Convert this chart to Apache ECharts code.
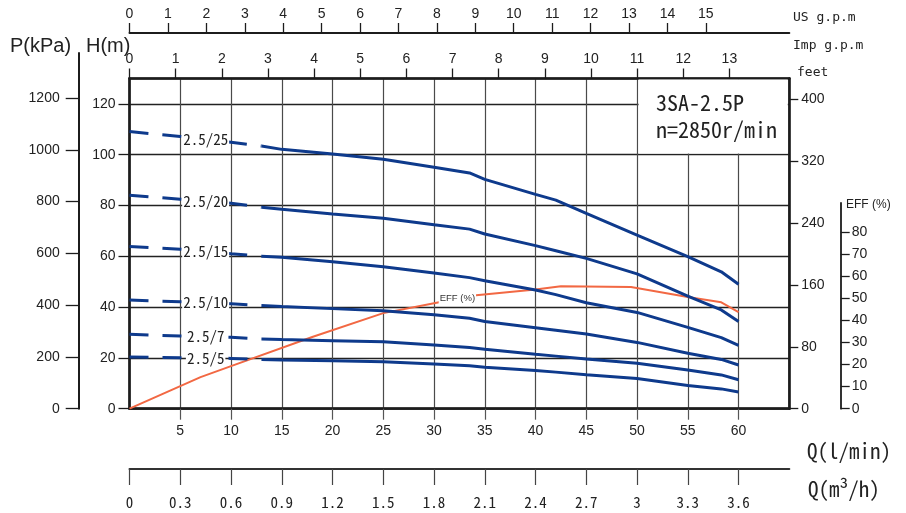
<!DOCTYPE html>
<html><head><meta charset="utf-8">
<script src="https://cdn.jsdelivr.net/npm/echarts@6/dist/echarts.min.js"></script>
<style>html,body{margin:0;padding:0;background:#fff}#c{width:906px;height:513px}</style>
</head><body><div id="c"></div>
<script>
// ---------------- data ----------------
const Q = [0, 5, 10, 13, 15, 20, 25, 30, 33.5, 35, 40, 42, 45, 50, 55, 58.3, 60];
const H_25 = [109.1, 107.2, 104.9, 103.4, 102.1, 100.3, 98.2, 95.1, 92.8, 90.3, 84.4, 82.1, 76.9, 68.3, 59.9, 53.9, 49.0];
const H_20 = [84.0, 82.5, 80.9, 79.3, 78.5, 76.7, 75.0, 72.4, 70.7, 68.8, 64.2, 62.2, 59.2, 53.1, 44.3, 38.9, 34.3];
const H_15 = [63.9, 62.8, 61.0, 60.0, 59.6, 57.9, 55.9, 53.4, 51.6, 50.4, 46.7, 44.9, 41.7, 37.9, 32.0, 28.0, 24.9];
const H_10 = [42.8, 42.1, 41.3, 40.6, 40.2, 39.4, 38.6, 37.0, 35.6, 34.3, 31.9, 30.9, 29.4, 26.1, 21.8, 19.4, 17.2];
const H_7  = [29.3, 28.6, 28.1, 27.4, 27.2, 26.8, 26.4, 25.1, 24.1, 23.4, 21.4, 20.7, 19.6, 17.9, 15.2, 13.3, 11.4];
const H_5  = [20.4, 20.1, 19.8, 19.4, 19.2, 18.9, 18.5, 17.6, 16.9, 16.3, 15.0, 14.4, 13.4, 11.9, 9.1, 7.8, 6.6];
const CURVE_NAMES = ['2.5/25', '2.5/20', '2.5/15', '2.5/10', '2.5/7', '2.5/5'];
const CURVES = [H_25, H_20, H_15, H_10, H_7, H_5];
const DASH_END_Q = 13;      // dashed (non-recommended) range ends here
const CURVE_LABEL_Q = 7.5;  // where the model labels sit

const Q_EFF = [0, 7, 10, 18, 25, 30, 33.9, 40, 42.5, 49.4, 55, 58.3, 60];
const EFF   = [0, 14.3, 19.3, 32.5, 43.3, 47.8, 51.3, 54.0, 55.5, 55.1, 50.6, 48.2, 43.8];
const EFF_LABEL = [32.3, 49.8];

const Q_LMIN_TICKS = [5, 10, 15, 20, 25, 30, 35, 40, 45, 50, 55, 60];
const IMP_TICKS = [0, 1, 2, 3, 4, 5, 6, 7, 8, 9, 10, 11, 12, 13];
const US_TICKS = [0, 1, 2, 3, 4, 5, 6, 7, 8, 9, 10, 11, 12, 13, 14, 15];
const M3H_TICKS = [0, 0.3, 0.6, 0.9, 1.2, 1.5, 1.8, 2.1, 2.4, 2.7, 3, 3.3, 3.6];
const H_TICKS = [0, 20, 40, 60, 80, 100, 120];
const P_TICKS = [0, 200, 400, 600, 800, 1000, 1200];
const FEET_TICKS = [0, 80, 160, 240, 320, 400];
const EFF_TICKS = [0, 10, 20, 30, 40, 50, 60, 70, 80];

const Q_MAX = 65, H_MAX = 130, EFF_AXIS_MAX = 93.2;
const TITLE_BOX = [[50, 100], [65, 130]];

// ---------------- layout / styles ----------------
const GL = 129.5, GR = 116.7, GT = 78.5, GB = 104.3;
const EFF_TOP = 203, P_TOP = 53;
const CH = 513;
const pxPerM = (CH - GT - GB) / H_MAX;
const P_MAX = (CH - P_TOP - GB) / pxPerM * 9.81;

const SANS = '"Liberation Sans", Arial, sans-serif';
const MONO = '"DejaVu Sans Mono", monospace';
const CJKMONO = '"Noto Sans Mono CJK SC", "DejaVu Sans Mono", monospace';
const INK = '#1c1c1c';
const BLUE = '#0e3a8c';
const ORANGE = '#f26843';

function interp(xs, ys, x) {
  for (let i = 1; i < xs.length; i++) {
    if (x <= xs[i]) {
      const t = (x - xs[i - 1]) / (xs[i] - xs[i - 1]);
      return ys[i - 1] + t * (ys[i] - ys[i - 1]);
    }
  }
  return ys[ys.length - 1];
}

const series = [];
CURVES.forEach((H, i) => {
  const pts = Q.map((q, k) => [q, H[k]]);
  series.push({
    type: 'line', xAxisIndex: 0, yAxisIndex: 0, symbol: 'none', silent: true, z: 4,
    data: pts.filter(p => p[0] <= DASH_END_Q),
    lineStyle: { color: BLUE, width: 3, type: [19, 14] },
    markPoint: {
      symbol: 'circle', symbolSize: 1, itemStyle: { color: 'rgba(0,0,0,0)' },
      label: { show: true, position: 'inside', formatter: CURVE_NAMES[i],
        backgroundColor: '#fff', padding: [0, 1], color: '#222', fontSize: 15, fontFamily: CJKMONO },
      data: [{ coord: [CURVE_LABEL_Q, interp(Q, H, CURVE_LABEL_Q)] }]
    }
  });
  series.push({
    type: 'line', xAxisIndex: 0, yAxisIndex: 0, symbol: 'none', silent: true, z: 4,
    data: pts.filter(p => p[0] >= DASH_END_Q),
    lineStyle: { color: BLUE, width: 3 }
  });
});
series.push({
  type: 'line', xAxisIndex: 4, yAxisIndex: 2, symbol: 'none', silent: true, z: 3,
  data: Q_EFF.map((q, k) => [q, EFF[k]]),
  lineStyle: { color: ORANGE, width: 2 },
  markPoint: {
    symbol: 'circle', symbolSize: 1, itemStyle: { color: 'rgba(0,0,0,0)' },
    label: { show: true, position: 'inside', formatter: 'EFF (%)', backgroundColor: '#fff',
      padding: [1, 1], color: '#333', fontSize: 9.5, fontFamily: SANS },
    data: [{ coord: EFF_LABEL }]
  }
});
// white title box (covers grid lines)
series.push({
  type: 'line', xAxisIndex: 0, yAxisIndex: 0, data: [], silent: true, z: 2,
  markArea: {
    silent: true, itemStyle: { color: '#fff' },
    data: [[{ coord: [TITLE_BOX[0][0] + 0.15, TITLE_BOX[0][1] + 0.5] },
            { coord: [TITLE_BOX[1][0] - 0.15, TITLE_BOX[1][1] - 0.35] }]]
  }
});

const plain = v => String(v);
const lbl = (vals, extra) => Object.assign({ show: true, customValues: vals, formatter: plain, color: '#222', fontSize: 14, fontFamily: SANS }, extra || {});
const tck = (vals, len, extra) => Object.assign({ show: true, customValues: vals, length: len, inside: false, lineStyle: { color: INK, width: 1.3 } }, extra || {});
const line = (w, c) => ({ show: true, onZero: false, lineStyle: { color: c || INK, width: w } });

const option = {
  animation: false,
  backgroundColor: '#fff',
  grid: [
    { left: GL, right: GR, top: GT, bottom: GB, show: true, borderColor: INK, borderWidth: 2, backgroundColor: 'transparent' },
    { left: GL, right: GR, top: EFF_TOP, bottom: GB },
    { left: GL, right: GR, top: P_TOP, bottom: GB }
  ],
  xAxis: [
    { gridIndex: 0, type: 'value', position: 'bottom', min: 0, max: Q_MAX,
      axisLine: line(2.5), axisTick: tck(Q_LMIN_TICKS, 11, { lineStyle: { color: '#555', width: 1.2 } }),
      axisLabel: lbl(Q_LMIN_TICKS, { margin: 15 }),
      splitLine: { show: true, lineStyle: { color: '#4a4a4a', width: 1.2 } } },
    { gridIndex: 0, type: 'value', position: 'top', min: 0, max: Q_MAX / 4.54609,
      axisLine: line(2.5), axisTick: tck(IMP_TICKS, 10), axisLabel: lbl(IMP_TICKS, { margin: 12 }),
      splitLine: { show: false } },
    { gridIndex: 0, type: 'value', position: 'top', offset: 45.5, min: 0, max: Q_MAX / 3.78541,
      axisLine: line(2), axisTick: tck(US_TICKS, 10), axisLabel: lbl(US_TICKS, { margin: 12 }),
      splitLine: { show: false } },
    { gridIndex: 0, type: 'value', position: 'bottom', offset: 60.3, min: 0, max: Q_MAX * 0.06,
      axisLine: line(2, '#333'), axisTick: tck(M3H_TICKS, 16, { lineStyle: { color: '#444', width: 1.2 } }),
      axisLabel: lbl(M3H_TICKS, { margin: 26, fontFamily: CJKMONO, fontSize: 15 }),
      splitLine: { show: false } },
    { gridIndex: 1, type: 'value', min: 0, max: Q_MAX, show: false },
    { gridIndex: 2, type: 'value', min: 0, max: Q_MAX, show: false }
  ],
  yAxis: [
    { gridIndex: 0, type: 'value', position: 'left', min: 0, max: H_MAX,
      axisLine: line(2.5), axisTick: tck(H_TICKS, 11), axisLabel: lbl(H_TICKS, { margin: 14 }),
      splitLine: { show: true, lineStyle: { color: '#222', width: 1.3 } } },
    { gridIndex: 0, type: 'value', position: 'right', min: 0, max: H_MAX * 3.28084,
      axisLine: line(2.5), axisTick: tck(FEET_TICKS, 9), axisLabel: lbl(FEET_TICKS, { margin: 12 }),
      splitLine: { show: false } },
    { gridIndex: 1, type: 'value', position: 'right', offset: 51.4, min: 0, max: EFF_AXIS_MAX,
      axisLine: line(1.8), axisTick: tck(EFF_TICKS, 9), axisLabel: lbl(EFF_TICKS, { margin: 11 }),
      splitLine: { show: false } },
    { gridIndex: 2, type: 'value', position: 'left', offset: 50.8, min: 0, max: P_MAX,
      axisLine: line(2), axisTick: tck(P_TICKS, 13), axisLabel: lbl(P_TICKS, { margin: 19 }),
      splitLine: { show: false } }
  ],
  graphic: [
    { type: 'text', x: 10, y: 46, style: { text: 'P(kPa)', fontSize: 20, fontFamily: SANS, fill: '#222', verticalAlign: 'middle' } },
    { type: 'text', x: 86, y: 46, style: { text: 'H(m)', fontSize: 20, fontFamily: SANS, fill: '#222', verticalAlign: 'middle' } },
    { type: 'text', x: 793, y: 18, style: { text: 'US g.p.m', fontSize: 13, fontFamily: MONO, fill: '#222', verticalAlign: 'middle' } },
    { type: 'text', x: 793, y: 46, style: { text: 'Imp g.p.m', fontSize: 13, fontFamily: MONO, fill: '#222', verticalAlign: 'middle' } },
    { type: 'text', x: 797, y: 73, style: { text: 'feet', fontSize: 13, fontFamily: MONO, fill: '#222', verticalAlign: 'middle' } },
    { type: 'text', x: 846, y: 205, style: { text: 'EFF (%)', fontSize: 12, fontFamily: SANS, fill: '#222', verticalAlign: 'middle' } },
    { type: 'text', x: 807, y: 451, style: { text: 'Q(l/min)', fontSize: 21, fontFamily: CJKMONO, fill: '#222', verticalAlign: 'middle' } },
    { type: 'text', x: 808, y: 489, style: { text: 'Q(m³/h)', fontSize: 21, fontFamily: CJKMONO, fill: '#222', verticalAlign: 'middle' } },
    { type: 'text', x: 656, y: 103, z: 10, style: { text: '3SA-2.5P', fontSize: 22, fontFamily: CJKMONO, fill: '#222', verticalAlign: 'middle' } },
    { type: 'text', x: 656, y: 130, z: 10, style: { text: 'n=2850r/min', fontSize: 22, fontFamily: CJKMONO, fill: '#222', verticalAlign: 'middle' } }
  ],
  series: series
};

const chart = echarts.init(document.getElementById('c'), null, { renderer: 'canvas' });
chart.setOption(option);
</script>
</body></html>
